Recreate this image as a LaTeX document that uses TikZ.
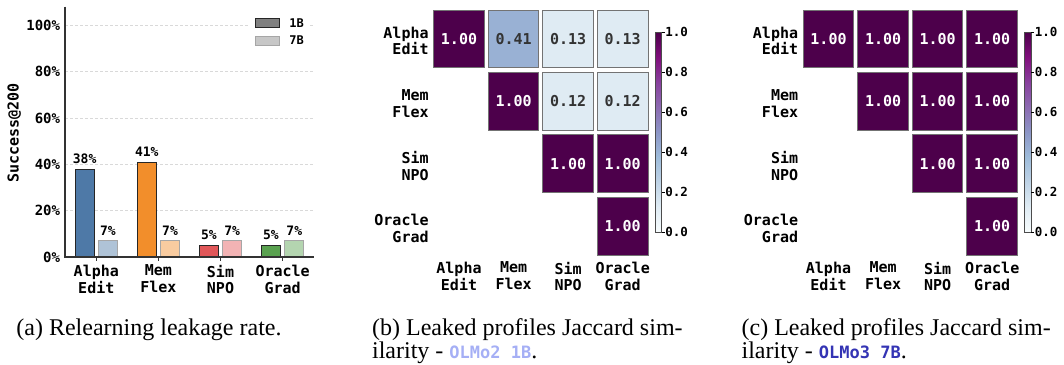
\documentclass[tikz,border=0pt]{standalone}
\usepackage{fontspec}
\newfontfamily\chartfont{DejaVu Sans Mono}
\newfontfamily\captfont{Liberation Serif}
\definecolor{aeblue}{HTML}{4E79A7}
\definecolor{mforange}{HTML}{F28E2B}
\definecolor{snred}{HTML}{E15759}
\definecolor{oggreen}{HTML}{59A14F}
\definecolor{jaccfull}{HTML}{4D004B}
\definecolor{jaccmid}{HTML}{99B1D4}
\definecolor{jacclow}{HTML}{DFEBF3}
\definecolor{olmosmall}{HTML}{A5AFF5}
\definecolor{olmolarge}{HTML}{3434B4}
\definecolor{bupuA}{HTML}{F7FCFD}
\definecolor{bupuB}{HTML}{E0ECF4}
\definecolor{bupuC}{HTML}{BFD3E6}
\definecolor{bupuD}{HTML}{9EBCDA}
\definecolor{bupuE}{HTML}{8C96C6}
\definecolor{bupuF}{HTML}{8C6BB1}
\definecolor{bupuG}{HTML}{88419D}
\definecolor{bupuH}{HTML}{810F7C}
\definecolor{bupuI}{HTML}{4D004B}
\pgfdeclareverticalshading{bupu}{100bp}{color(0bp)=(bupuA); color(25bp)=(bupuA);
  color(31.25bp)=(bupuB); color(37.5bp)=(bupuC); color(43.75bp)=(bupuD);
  color(50bp)=(bupuE); color(56.25bp)=(bupuF); color(62.5bp)=(bupuG);
  color(68.75bp)=(bupuH); color(75bp)=(bupuI); color(100bp)=(bupuI)}

\begin{document}
\begin{tikzpicture}[x=1pt,y=-1pt,line width=0.8pt,
  ticklab/.style={inner sep=0pt,anchor=east,font=\fontsize{14}{16}\selectfont\chartfont\bfseries},
  catlab/.style={inner sep=0pt,align=center,anchor=north,font=\fontsize{15}{16.7}\selectfont\chartfont\bfseries},
  rowlab/.style={catlab,align=right,anchor=east},
  vallab/.style={inner sep=0pt,anchor=base,font=\fontsize{13}{15}\selectfont\chartfont\bfseries},
  leglab/.style={inner sep=0pt,anchor=west,font=\fontsize{12}{14}\selectfont\chartfont\bfseries},
  cbarlab/.style={inner sep=0pt,anchor=west,font=\fontsize{12.5}{14}\selectfont\chartfont\bfseries},
  gridline/.style={gray!30,line width=0.6pt,dash pattern=on 3pt off 2pt},
  spine/.style={black!80,line width=1.1pt},
  bar1/.style={draw=black!85,line width=1pt},
  bar7/.style={draw=black!35,line width=1pt},
  cell/.style={draw=black!55,line width=0.9pt,minimum width=50.6pt,minimum height=57.7pt,
    inner sep=0pt,text=black!80,font=\fontsize{15}{17}\selectfont\chartfont\bfseries},
  hicell/.style={cell,fill=jaccfull,text=white},
  cbar/.style={shading=bupu,draw=black!70,line width=0.6pt},
  capt/.style={inner sep=0pt,anchor=base west,font=\fontsize{24}{23.3}\selectfont\captfont}]
\useasboundingbox (0,0) rectangle (1064,364);

\draw[gridline] (65,25.3) -- (314,25.3);
\draw[gridline] (65,71.6) -- (314,71.6);
\draw[gridline] (65,118) -- (314,118);
\draw[gridline] (65,164.3) -- (314,164.3);
\draw[gridline] (65,210.7) -- (314,210.7);
\fill[white] (250,12) rectangle (310,50);
\draw[bar1,fill=black!50] (255.3,18.3) rectangle (279.3,27.7);
\draw[bar7,fill=black!22] (255.3,36) rectangle (279.3,45);
\node[leglab] (leg1) at (289,23) {1B};
\node[leglab] (leg7) at (289,40.5) {7B};

\draw[bar1,fill=aeblue] (75.3,257) rectangle (94,169);
\draw[bar7,fill=aeblue!45] (98.6,257) rectangle (117.3,240.8);
\draw[bar1,fill=mforange] (137.4,257) rectangle (156.1,162);
\draw[bar7,fill=mforange!45] (160.7,257) rectangle (179.4,240.8);
\draw[bar1,fill=snred] (199.5,257) rectangle (218.2,245.4);
\draw[bar7,fill=snred!45] (222.8,257) rectangle (241.5,240.8);
\draw[bar1,fill=oggreen] (261.6,257) rectangle (280.3,245.4);
\draw[bar7,fill=oggreen!45] (284.9,257) rectangle (303.6,240.8);
\node[vallab] (v-ae1) at (84.65,163.5) {38\%};
\node[vallab] (v-ae7) at (107.95,235.3) {7\%};
\node[vallab] (v-mf1) at (146.75,156.5) {41\%};
\node[vallab] (v-mf7) at (170.05,235.3) {7\%};
\node[vallab] (v-sn1) at (208.85,239.9) {5\%};
\node[vallab] (v-sn7) at (232.15,235.3) {7\%};
\node[vallab] (v-og1) at (270.95,239.9) {5\%};
\node[vallab] (v-og7) at (294.25,235.3) {7\%};

\draw[spine] (65,6.7) -- (65,257) -- (314,257);
\draw[spine] (96.3,257) -- (96.3,260.5);
\draw[spine] (158.4,257) -- (158.4,260.5);
\draw[spine] (220.5,257) -- (220.5,260.5);
\draw[spine] (282.6,257) -- (282.6,260.5);
\node[ticklab] (yt0) at (60.5,257) {0\%};
\node[ticklab] (yt20) at (60.5,210.7) {20\%};
\node[ticklab] (yt40) at (60.5,164.3) {40\%};
\node[ticklab] (yt60) at (60.5,118) {60\%};
\node[ticklab] (yt80) at (60.5,71.6) {80\%};
\node[ticklab] (yt100) at (60.5,25.3) {100\%};
\node[catlab,rotate=90,anchor=center] (ylab) at (14.3,133) {Success@200};
\node[catlab] (xl-ae) at (96.3,264.5) {Alpha\\Edit};
\node[catlab] (xl-mf) at (158.4,264.5) {Mem\\Flex};
\node[catlab] (xl-sn) at (220.5,264.5) {Sim\\NPO};
\node[catlab] (xl-og) at (282.6,264.5) {Oracle\\Grad};

\node[hicell] (b-11) at (459,38.85) {1.00};
\node[cell,fill=jaccmid] (b-12) at (513.6,38.85) {0.41};
\node[cell,fill=jacclow] (b-13) at (568.1,38.85) {0.13};
\node[cell,fill=jacclow] (b-14) at (622.7,38.85) {0.13};
\node[hicell] (b-22) at (513.6,101.3) {1.00};
\node[cell,fill=jacclow] (b-23) at (568.1,101.3) {0.12};
\node[cell,fill=jacclow] (b-24) at (622.7,101.3) {0.12};
\node[hicell] (b-33) at (568.1,163.75) {1.00};
\node[hicell] (b-34) at (622.7,163.75) {1.00};
\node[hicell] (b-44) at (622.7,226.2) {1.00};
\node[rowlab] (b-r1) at (429,40.8) {Alpha\\Edit};
\node[rowlab] (b-r2) at (429,103.3) {Mem\\Flex};
\node[rowlab] (b-r3) at (429,165.7) {Sim\\NPO};
\node[rowlab] (b-r4) at (429,228.2) {Oracle\\Grad};
\node[catlab] (b-c1) at (459,261.5) {Alpha\\Edit};
\node[catlab] (b-c2) at (513.6,261.5) {Mem\\Flex};
\node[catlab] (b-c3) at (568.1,261.5) {Sim\\NPO};
\node[catlab] (b-c4) at (622.7,261.5) {Oracle\\Grad};
\shadedraw[cbar] (655,32.3) rectangle (661.7,232.3);
\draw (661.7,32.3) -- (664.5,32.3);
\draw (661.7,72.3) -- (664.5,72.3);
\draw (661.7,112.3) -- (664.5,112.3);
\draw (661.7,152.3) -- (664.5,152.3);
\draw (661.7,192.3) -- (664.5,192.3);
\draw (661.7,232.3) -- (664.5,232.3);
\node[cbarlab] (b-t10) at (665,32.3) {1.0};
\node[cbarlab] (b-t08) at (665,72.3) {0.8};
\node[cbarlab] (b-t06) at (665,112.3) {0.6};
\node[cbarlab] (b-t04) at (665,152.3) {0.4};
\node[cbarlab] (b-t02) at (665,192.3) {0.2};
\node[cbarlab] (b-t00) at (665,232.3) {0.0};

\node[hicell] (c-11) at (828.5,38.85) {1.00};
\node[hicell] (c-12) at (883.1,38.85) {1.00};
\node[hicell] (c-13) at (937.6,38.85) {1.00};
\node[hicell] (c-14) at (992.2,38.85) {1.00};
\node[hicell] (c-22) at (883.1,101.3) {1.00};
\node[hicell] (c-23) at (937.6,101.3) {1.00};
\node[hicell] (c-24) at (992.2,101.3) {1.00};
\node[hicell] (c-33) at (937.6,163.75) {1.00};
\node[hicell] (c-34) at (992.2,163.75) {1.00};
\node[hicell] (c-44) at (992.2,226.2) {1.00};
\node[rowlab] (c-r1) at (798.5,40.8) {Alpha\\Edit};
\node[rowlab] (c-r2) at (798.5,103.3) {Mem\\Flex};
\node[rowlab] (c-r3) at (798.5,165.7) {Sim\\NPO};
\node[rowlab] (c-r4) at (798.5,228.2) {Oracle\\Grad};
\node[catlab] (c-c1) at (828.5,261.5) {Alpha\\Edit};
\node[catlab] (c-c2) at (883.1,261.5) {Mem\\Flex};
\node[catlab] (c-c3) at (937.6,261.5) {Sim\\NPO};
\node[catlab] (c-c4) at (992.2,261.5) {Oracle\\Grad};
\shadedraw[cbar] (1024.5,32.3) rectangle (1031.2,232.3);
\draw (1031.2,32.3) -- (1034,32.3);
\draw (1031.2,72.3) -- (1034,72.3);
\draw (1031.2,112.3) -- (1034,112.3);
\draw (1031.2,152.3) -- (1034,152.3);
\draw (1031.2,192.3) -- (1034,192.3);
\draw (1031.2,232.3) -- (1034,232.3);
\node[cbarlab] (c-t10) at (1034.5,32.3) {1.0};
\node[cbarlab] (c-t08) at (1034.5,72.3) {0.8};
\node[cbarlab] (c-t06) at (1034.5,112.3) {0.6};
\node[cbarlab] (c-t04) at (1034.5,152.3) {0.4};
\node[cbarlab] (c-t02) at (1034.5,192.3) {0.2};
\node[cbarlab] (c-t00) at (1034.5,232.3) {0.0};

\node[capt] (cap-a) at (16,335.7) {(a) Relearning leakage rate.};
\node[capt] (cap-b1) at (371.7,335.3) {(b) Leaked profiles Jaccard sim-};
\node[capt] (cap-b2) at (371.7,358.4) {ilarity - {\fontsize{17}{19}\chartfont\bfseries\color{olmosmall}OLMo2 1B}.};
\node[capt] (cap-c1) at (741.2,335.3) {(c) Leaked profiles Jaccard sim-};
\node[capt] (cap-c2) at (741.2,358.4) {ilarity - {\fontsize{17}{19}\chartfont\bfseries\color{olmolarge}OLMo3 7B}.};
\end{tikzpicture}
\end{document}
